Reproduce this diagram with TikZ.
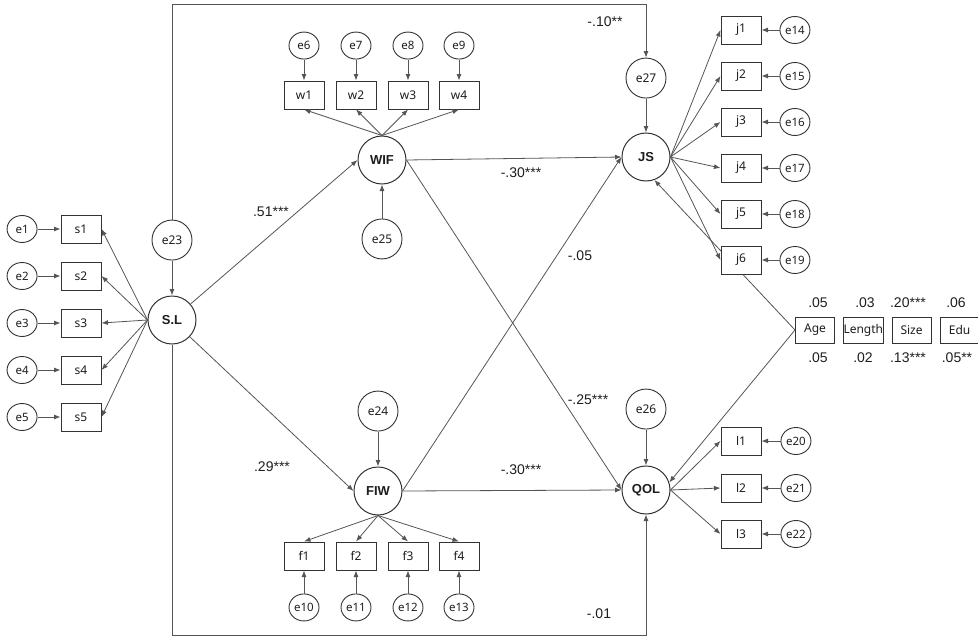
\documentclass[tikz,border=0pt]{standalone}
\usepackage{fontspec}
\setmainfont{Liberation Sans}
\newfontfamily\nodefont{Noto Sans}
\usepackage{tikz}
\usetikzlibrary{shapes,arrows.meta,positioning}
\definecolor{edgegray}{HTML}{555555}
\definecolor{boxgray}{HTML}{333333}
\definecolor{ink}{HTML}{1E1E1E}

\begin{document}
\begin{tikzpicture}[x=1pt, y=-1pt, text=ink,
    latent/.style={circle, draw=boxgray, line width=1pt, fill=white, minimum size=48pt, inner sep=0pt, font=\bfseries\fontsize{13}{15}\selectfont},
    errbig/.style={circle, draw=boxgray, line width=0.9pt, fill=white, minimum size=40pt, inner sep=0pt, font=\nodefont\fontsize{12}{14}\selectfont},
    errnode/.style={ellipse, draw=boxgray, line width=0.9pt, fill=white, minimum width=30pt, minimum height=27pt, inner sep=0pt, font=\nodefont\fontsize{11.5}{13}\selectfont},
    indicator/.style={rectangle, draw=boxgray, line width=1pt, fill=white, minimum width=40pt, minimum height=28pt, inner sep=0pt, font=\nodefont\fontsize{12}{14}\selectfont},
    control/.style={indicator, minimum width=39pt, minimum height=26pt},
    coef/.style={inner sep=0pt, font=\fontsize{14}{16}\selectfont},
    arrow/.style={-{Latex[length=6.5pt,width=5pt]}, draw=edgegray, line width=0.8pt},
    plain/.style={draw=edgegray, line width=0.8pt}]

    \useasboundingbox (0,0) rectangle (978,637);

    % latent variables
    \node[latent] (sl) at (172,320) {S.L};
    \node[latent] (wif) at (382,160) {WIF};
    \node[latent] (fiw) at (378,491) {FIW};
    \node[latent] (js) at (646,157) {JS};
    \node[latent] (qol) at (646,490) {QOL};

    \node[errbig, above=35pt of sl] (e23) {e23};
    \node[errbig, below=34pt of wif] (e25) {e25};
    \node[errbig, above=35pt of fiw] (e24) {e24};
    \node[errbig, above=34pt of js] (e27) {e27};
    \node[errbig, above=36pt of qol] (e26) {e26};

    % control variables
    \node[control] (age) at (815,330) {Age};
    \node[control, right=8pt of age] (length) {Length};
    \node[control, right=8pt of length] (size) {Size};
    \node[control, right=8pt of size] (edu) {Edu};

    \draw[arrow] (age.west) -- (js.-70);
    \draw[arrow] (age.west) -- (qol.18);

    % indicators
    \node[indicator] (s1) at (81,229) {s1};
    \node[indicator] (s2) at (81,276) {s2};
    \node[indicator] (s3) at (81,323) {s3};
    \node[indicator] (s4) at (81,370) {s4};
    \node[indicator] (s5) at (81,417) {s5};

    \node[indicator] (w1) at (304,95) {w1};
    \node[indicator] (w2) at (356,95) {w2};
    \node[indicator] (w3) at (408,95) {w3};
    \node[indicator] (w4) at (459,95) {w4};

    \node[indicator] (f1) at (304,556) {f1};
    \node[indicator] (f2) at (356,556) {f2};
    \node[indicator] (f3) at (408,556) {f3};
    \node[indicator] (f4) at (459,556) {f4};

    \node[indicator] (j1) at (741,30) {j1};
    \node[indicator] (j2) at (741,76) {j2};
    \node[indicator] (j3) at (741,122) {j3};
    \node[indicator] (j4) at (741,168) {j4};
    \node[indicator] (j5) at (741,214) {j5};
    \node[indicator] (j6) at (741,260) {j6};

    \node[indicator] (l1) at (741,441) {l1};
    \node[indicator] (l2) at (741,488) {l2};
    \node[indicator] (l3) at (741,534) {l3};

    % measurement errors
    \node[errnode, left=23pt of s1] (e1) {e1};
    \node[errnode, left=23pt of s2] (e2) {e2};
    \node[errnode, left=23pt of s3] (e3) {e3};
    \node[errnode, left=23pt of s4] (e4) {e4};
    \node[errnode, left=23pt of s5] (e5) {e5};

    \node[errnode, above=21pt of w1] (e6) {e6};
    \node[errnode, above=21pt of w2] (e7) {e7};
    \node[errnode, above=21pt of w3] (e8) {e8};
    \node[errnode, above=21pt of w4] (e9) {e9};

    \node[errnode, below=23pt of f1] (e10) {e10};
    \node[errnode, below=23pt of f2] (e11) {e11};
    \node[errnode, below=23pt of f3] (e12) {e12};
    \node[errnode, below=23pt of f4] (e13) {e13};

    \node[errnode, right=18pt of j1] (e14) {e14};
    \node[errnode, right=18pt of j2] (e15) {e15};
    \node[errnode, right=18pt of j3] (e16) {e16};
    \node[errnode, right=18pt of j4] (e17) {e17};
    \node[errnode, right=18pt of j5] (e18) {e18};
    \node[errnode, right=18pt of j6] (e19) {e19};

    \node[errnode, right=19pt of l1] (e20) {e20};
    \node[errnode, right=19pt of l2] (e21) {e21};
    \node[errnode, right=19pt of l3] (e22) {e22};

    % outer paths
    \coordinate (top_r) at (646,4);
    \coordinate (bot_r) at (646,635);
    \draw[arrow] (e23.north) |- (top_r) -- (e27.north);
    \draw[arrow] (sl.south) |- (bot_r) -- (qol.south);

    % structural paths
    \draw[arrow] (sl) -- (wif.west);
    \draw[arrow] (sl) -- (fiw.west);
    \draw[arrow] (wif.east) -- (js.west);
    \draw[arrow] (wif.east) -- (qol.west);
    \draw[arrow] (fiw.east) -- (js.west);
    \draw[arrow] (fiw.east) -- (qol.west);

    \draw[arrow] (e23) -- (sl);
    \draw[arrow] (e25) -- (wif);
    \draw[arrow] (e24) -- (fiw);
    \draw[arrow] (e27) -- (js);
    \draw[arrow] (e26) -- (qol);

    % loadings
    \draw[arrow] (sl.west) -- (s1.east);
    \draw[arrow] (sl.west) -- (s2.east);
    \draw[arrow] (sl.west) -- (s3.east);
    \draw[arrow] (sl.west) -- (s4.east);
    \draw[arrow] (sl.west) -- (s5.east);

    \draw[arrow] (wif.north) -- (w1.south);
    \draw[arrow] (wif.north) -- (w2.south);
    \draw[arrow] (wif.north) -- (w3.south);
    \draw[arrow] (wif.north) -- (w4.south);

    \draw[arrow] (fiw.south) -- (f1.north);
    \draw[arrow] (fiw.south) -- (f2.north);
    \draw[arrow] (fiw.south) -- (f3.north);
    \draw[arrow] (fiw.south) -- (f4.north);

    \draw[arrow] (js.east) -- (j1.west);
    \draw[arrow] (js.east) -- (j2.west);
    \draw[arrow] (js.east) -- (j3.west);
    \draw[arrow] (js.east) -- (j4.west);
    \draw[arrow] (js.east) -- (j5.west);
    \draw[arrow] (js.east) -- (j6.west);

    \draw[arrow] (qol.east) -- (l1.west);
    \draw[arrow] (qol.east) -- (l2.west);
    \draw[arrow] (qol.east) -- (l3.west);

    % error arrows
    \draw[arrow] (e1) -- (s1);
    \draw[arrow] (e2) -- (s2);
    \draw[arrow] (e3) -- (s3);
    \draw[arrow] (e4) -- (s4);
    \draw[arrow] (e5) -- (s5);
    \draw[arrow] (e6) -- (w1);
    \draw[arrow] (e7) -- (w2);
    \draw[arrow] (e8) -- (w3);
    \draw[arrow] (e9) -- (w4);
    \draw[arrow] (e10) -- (f1);
    \draw[arrow] (e11) -- (f2);
    \draw[arrow] (e12) -- (f3);
    \draw[arrow] (e13) -- (f4);
    \draw[arrow] (e14) -- (j1);
    \draw[arrow] (e15) -- (j2);
    \draw[arrow] (e16) -- (j3);
    \draw[arrow] (e17) -- (j4);
    \draw[arrow] (e18) -- (j5);
    \draw[arrow] (e19) -- (j6);
    \draw[arrow] (e20) -- (l1);
    \draw[arrow] (e21) -- (l2);
    \draw[arrow] (e22) -- (l3);

    % coefficients
    \node[coef] (c_sl_wif) at (271,212) {.51***};
    \node[coef] (c_sl_fiw) at (272,467) {.29***};
    \node[coef] (c_wif_js) at (521,173) {-.30***};
    \node[coef] (c_fiw_js) at (580,256) {-.05};
    \node[coef] (c_wif_qol) at (588,400) {-.25***};
    \node[coef] (c_fiw_qol) at (521,470) {-.30***};
    \node[coef] (c_top) at (605,22) {-.10**};
    \node[coef] (c_bot) at (599,614) {-.01};

    \node[coef] (age_js) at (818,303) {.05};
    \node[coef] (length_js) at (865,303) {.03};
    \node[coef] (size_js) at (908,303) {.20***};
    \node[coef] (edu_js) at (956,303) {.06};
    \node[coef] (age_qol) at (818,358) {.05};
    \node[coef] (length_qol) at (863,358) {.02};
    \node[coef] (size_qol) at (908,358) {.13***};
    \node[coef] (edu_qol) at (957,358) {.05**};
\end{tikzpicture}
\end{document}
